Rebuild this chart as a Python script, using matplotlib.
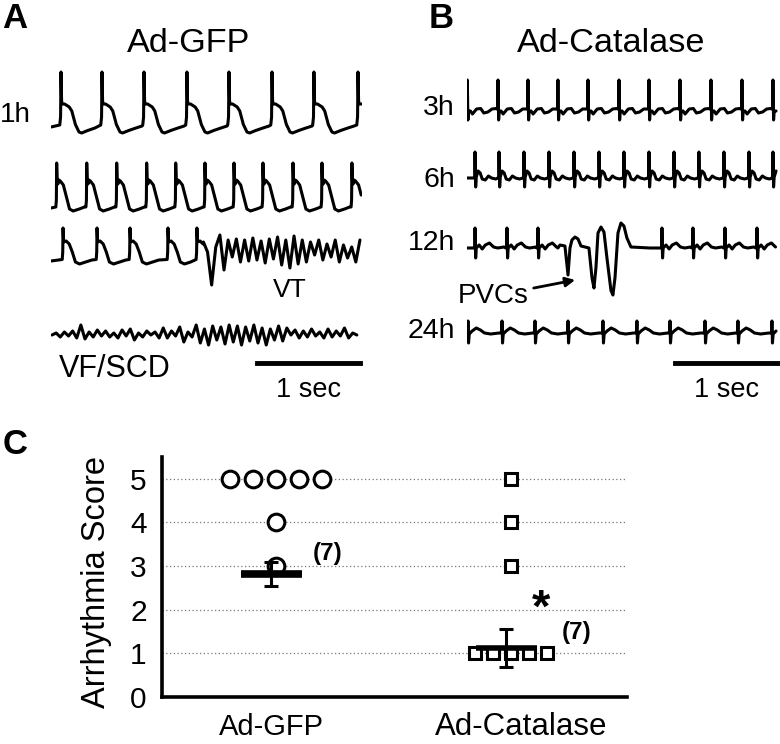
import numpy as np
import matplotlib
matplotlib.use("Agg")
import matplotlib.pyplot as plt

# ---------------- data ----------------
# ECG traces: time in s, amplitude in mV
# panel A, Ad-GFP
gfp_1h_beats = [0.097, 0.495, 0.903, 1.320, 1.728, 2.146, 2.553, 2.981]
gfp_1h_tmpl_t = [-0.012, -0.004, 0.0, 0.006, 0.012, 0.035, 0.08, 0.105, 0.14, 0.175, 0.2, 0.26, 0.33, 0.39]
gfp_1h_tmpl_v = [0.14, 0.3, 1.2, 0.62, 0.56, 0.56, 0.50, 0.42, 0.15, 0.0, -0.02, 0.03, 0.08, 0.12]

gfp_row2_beats = [0.055, 0.347, 0.638, 0.929, 1.211, 1.495, 1.777, 2.058, 2.350, 2.631, 2.922]
gfp_row2_tmpl_t = [-0.008, -0.003, 0.0, 0.005, 0.012, 0.022, 0.035, 0.065, 0.09, 0.125, 0.16, 0.22, 0.27]
gfp_row2_tmpl_v = [0.06, 0.2, 0.94, 0.6, 0.52, 0.6, 0.58, 0.5, 0.3, 0.02, -0.02, 0.02, 0.06]

gfp_row3_beats = [0.117, 0.447, 0.767, 1.136, 1.417]
gfp_row3_tmpl_t = [-0.008, -0.003, 0.0, 0.006, 0.03, 0.06, 0.09, 0.12, 0.16, 0.22, 0.28]
gfp_row3_tmpl_v = [0.05, 0.2, 0.68, 0.4, 0.42, 0.36, 0.2, 0.0, -0.04, 0.0, 0.04]
gfp_vt_t0 = 1.48
gfp_vt_dt = 0.04
gfp_vt_mv = [0.40, 0.20, -0.46, 0.30, 0.54, -0.16, 0.44, 0.10, 0.46, 0.0,
             0.44, 0.02, 0.48, 0.04, 0.42, -0.02, 0.46, 0.06, 0.50, -0.06,
             0.44, -0.12, 0.52, -0.04, 0.44, 0.0, 0.40, 0.14, 0.44, 0.04,
             0.36, 0.10, 0.44, 0.0, 0.34, 0.08, 0.30, 0.0, 0.44]

gfp_vf_t0 = 0.01
gfp_vf_dt = 0.04
gfp_vf_mv = [0.0, 0.04, -0.04, 0.06, -0.02, 0.08, -0.06, 0.20, -0.08, 0.06,
             -0.04, 0.10, -0.02, 0.08, -0.04, 0.04, -0.06, 0.10, -0.02, 0.12,
             -0.10, 0.04, -0.04, 0.08, 0.0, 0.06, -0.06, 0.14, -0.06, 0.08,
             -0.02, 0.16, -0.14, 0.06, -0.04, 0.20, -0.16, 0.12, -0.20, 0.18,
             -0.10, 0.16, -0.18, 0.20, -0.14, 0.18, -0.20, 0.16, -0.12, 0.20,
             -0.16, 0.14, -0.20, 0.12, -0.10, 0.18, -0.12, 0.14, 0.0, 0.10,
             -0.06, 0.08, -0.04, 0.12, -0.02, 0.06, -0.06, 0.12, -0.04, 0.08,
             -0.02, 0.14, -0.06, 0.04, 0.0]

# panel B, Ad-Catalase
cat_3h_beats = [0.003, 0.301, 0.592, 0.883, 1.175, 1.476, 1.767, 2.068, 2.369, 2.670, 2.971]
cat_3h_tmpl_t = [-0.012, -0.004, 0.0, 0.006, 0.012, 0.03, 0.05, 0.09, 0.13, 0.16, 0.2, 0.24, 0.28]
cat_3h_tmpl_v = [0.02, 0.03, 0.6, -0.2, -0.02, -0.02, -0.08, 0.02, 0.03, -0.06, -0.04, 0.02, 0.03]

cat_6h_beats = [0.078, 0.311, 0.553, 0.796, 1.039, 1.282, 1.524, 1.767, 2.010, 2.252, 2.495, 2.738, 2.971]
cat_6h_tmpl_t = [-0.01, -0.003, 0.0, 0.006, 0.012, 0.03, 0.05, 0.07, 0.1, 0.13, 0.16, 0.2, 0.23]
cat_6h_tmpl_v = [0.0, 0.02, 0.52, -0.18, 0.02, 0.14, 0.1, -0.02, -0.04, 0.04, 0.0, -0.02, 0.0]

cat_12h_beats_pre = [0.078, 0.388, 0.689]
cat_12h_beats_post = [1.893, 2.194, 2.505, 2.816]
cat_12h_tmpl_t = [-0.01, -0.003, 0.0, 0.006, 0.012, 0.04, 0.07, 0.1, 0.14, 0.18, 0.22, 0.28]
cat_12h_tmpl_v = [0.0, 0.0, 0.4, -0.2, 0.0, 0.06, -0.02, 0.06, 0.1, 0.02, 0.0, 0.02]
cat_pvc_t = [0.883, 0.903, 0.951, 0.981, 1.0, 1.019, 1.049, 1.078, 1.107, 1.146, 1.184,
             1.214, 1.233, 1.252, 1.272, 1.301, 1.330, 1.359, 1.398, 1.417, 1.437,
             1.466, 1.495, 1.524, 1.553, 1.592, 1.777]
cat_pvc_mv = [0.0, 0.06, 0.04, -0.54, 0.0, 0.16, 0.22, 0.18, 0.04, 0.02, 0.0,
              -0.6, -0.8, -0.4, 0.3, 0.42, 0.32, -0.2, -0.85, -0.94, -0.6,
              0.3, 0.5, 0.44, 0.2, 0.02, 0.0]

cat_24h_beats = [0.010, 0.340, 0.660, 0.981, 1.320, 1.650, 1.971, 2.311, 2.631, 2.961]
cat_24h_tmpl_t = [-0.01, -0.003, 0.0, 0.005, 0.012, 0.04, 0.08, 0.12, 0.16, 0.22, 0.3]
cat_24h_tmpl_v = [0.0, 0.02, 0.24, -0.2, -0.02, 0.04, 0.1, 0.06, 0.0, -0.02, 0.0]

# panel C, arrhythmia scores
groups = ["Ad-GFP", "Ad-Catalase"]
gfp_scores = [5, 5, 5, 5, 5, 4, 3]
cat_scores = [5, 4, 3, 1, 1, 1, 1, 1]
means = [2.82, 1.12]
errs = [0.28, 0.44]
n_labels = ["(7)", "(7)"]

# ---------------- helpers ----------------
plt.rcParams["font.family"] = ["Liberation Sans", "DejaVu Sans"]
W, H = 780, 744
fig = plt.figure(figsize=(W / 100, H / 100), dpi=100)


def px_axes(left, top, width, height):
    return fig.add_axes([left / W, 1 - (top + height) / H, width / W, height / H])


def px_text(x, y, s, **kw):
    fig.text(x / W, 1 - y / H, s, **kw)


def build(beats, tt, tv, stop):
    # place one beat template at every beat time, cut before the next one starts
    ts, vs = [], []
    limits = [b + tt[0] for b in beats[1:]] + [stop]
    for b, lim in zip(beats, limits):
        for dt, v in zip(tt, tv):
            if b + dt < lim:
                ts.append(b + dt)
                vs.append(v)
    return ts, vs


def trace_axes(x0, baseline):
    # 1 s = 103 px, 1 mV = 50 px
    ax = px_axes(x0, baseline - 75, 311, 150)
    ax.set_xlim(0, 3.02)
    ax.set_ylim(-1.5, 1.5)
    ax.axis("off")
    ax.patch.set_alpha(0)
    return ax


LW = 2.2
kw_line = dict(color="black", lw=LW, solid_joinstyle="round", solid_capstyle="round")

# ---------------- panel A ----------------
ax = trace_axes(51, 132)
t, v = build(gfp_1h_beats, gfp_1h_tmpl_t, gfp_1h_tmpl_v, 3.02)
ax.plot([0.0] + t, [0.1] + v, **kw_line)

ax = trace_axes(51, 210)
t, v = build(gfp_row2_beats, gfp_row2_tmpl_t, gfp_row2_tmpl_v, 3.02)
ax.plot([0.0] + t, [0.04] + v, **kw_line)

ax = trace_axes(51, 262)
t, v = build(gfp_row3_beats, gfp_row3_tmpl_t, gfp_row3_tmpl_v, gfp_vt_t0)
vt_t = [gfp_vt_t0 + i * gfp_vt_dt for i in range(len(gfp_vt_mv))]
ax.plot([0.0] + t + vt_t, [0.02] + v + gfp_vt_mv, **kw_line)

ax = trace_axes(51, 335)
vf_t = [gfp_vf_t0 + i * gfp_vf_dt for i in range(len(gfp_vf_mv))]
ax.plot(vf_t, gfp_vf_mv, **kw_line)
ax.plot([2.0, 3.0], [-0.56, -0.56], color="black", lw=3.5, clip_on=False)
ax.text(2.5, -1.1, "1 sec", ha="center", va="center", fontsize=19.5)

# ---------------- panel B ----------------
ax = trace_axes(467, 110)
t, v = build(cat_3h_beats, cat_3h_tmpl_t, cat_3h_tmpl_v, 3.02)
ax.plot(t, v, **kw_line)

ax = trace_axes(467, 178)
t, v = build(cat_6h_beats, cat_6h_tmpl_t, cat_6h_tmpl_v, 3.02)
ax.plot([0.0] + t, [0.0] + v, **kw_line)

ax = trace_axes(467, 248)
t1, v1 = build(cat_12h_beats_pre, cat_12h_tmpl_t, cat_12h_tmpl_v, cat_pvc_t[0])
t2, v2 = build(cat_12h_beats_post, cat_12h_tmpl_t, cat_12h_tmpl_v, 3.02)
ax.plot([0.0] + t1 + cat_pvc_t + t2, [0.0] + v1 + cat_pvc_mv + v2, **kw_line)
ax.annotate("PVCs", xy=(1.05, -0.64), xytext=(0.25, -0.96), ha="center", va="center",
            fontsize=20,
            arrowprops=dict(arrowstyle="-|>", color="black", lw=2, shrinkA=2, shrinkB=0,
                            mutation_scale=14))

ax = trace_axes(467, 333)
t, v = build(cat_24h_beats, cat_24h_tmpl_t, cat_24h_tmpl_v, 3.02)
ax.plot(t, v, **kw_line)
ax.plot([2.02, 3.02], [-0.6, -0.6], color="black", lw=3.5, clip_on=False)
ax.text(2.52, -1.14, "1 sec", ha="center", va="center", fontsize=19.5)

# labels of the panels
px_text(15, 19, "A", ha="center", va="center", fontsize=25, fontweight="bold")
px_text(441, 19, "B", ha="center", va="center", fontsize=25, fontweight="bold")
px_text(15, 445, "C", ha="center", va="center", fontsize=25, fontweight="bold")
px_text(189, 43, "Ad-GFP", ha="center", va="center", fontsize=24.7)
px_text(611, 43, "Ad-Catalase", ha="center", va="center", fontsize=24.7)
px_text(15, 115, "1h", ha="center", va="center", fontsize=20)
for lab, y in zip(["3h", "6h", "12h", "24h"], [108, 180, 243, 331]):
    px_text(455, y, lab, ha="right", va="center", fontsize=20.5)
px_text(290, 290, "VT", ha="center", va="center", fontsize=19)
px_text(115, 369, "VF/SCD", ha="center", va="center", fontsize=22)

# ---------------- panel C ----------------
ax = px_axes(162, 457, 465, 240)
ax.set_xlim(0.515, 2.494)
ax.set_ylim(0, 5.5)
ax.set_yticks(range(6))
ax.set_xticks([1, 2])
ax.set_xticklabels([])
ax.tick_params(axis="y", length=0, pad=11, labelsize=21.5)
ax.tick_params(axis="x", length=0)
for s in ["top", "right"]:
    ax.spines[s].set_visible(False)
for s in ["left", "bottom"]:
    ax.spines[s].set_linewidth(2.6)
ax.yaxis.grid(True, linestyle=(0, (1, 2)), color="#777777", lw=0.9)
ax.set_axisbelow(True)
ax.set_ylabel("Arrhythmia Score", fontsize=23.5)
ax.yaxis.set_label_coords(-0.108, 0.48)

# group names under the axis
for gx, name, fs in zip([0.98, 2.045], groups, [21, 22.5]):
    ax.text(gx, -0.125, name, transform=ax.get_xaxis_transform(), ha="center",
            va="center", fontsize=fs)

styles = [dict(marker="o", ms=12, spacing=0.098), dict(marker="s", ms=9, spacing=0.077)]
for gx, scores, st in zip([1, 2], [gfp_scores, cat_scores], styles):
    xs, ys = [], []
    for val in sorted(set(scores), reverse=True):
        k = scores.count(val)
        for i in range(k):
            xs.append(gx + (i - (k - 1) / 2) * st["spacing"])
            ys.append(val)
    ax.plot(xs, ys, linestyle="none", marker=st["marker"], ms=st["ms"],
            mfc="white", mec="black", mew=2.2, zorder=3)

for gx, m, e, lw in zip([1, 2], means, errs, [5.5, 4]):
    ex = gx - 0.02
    ax.errorbar([ex], [m], yerr=[e], fmt="none", ecolor="black", elinewidth=2.2,
                capsize=5, capthick=2.2, zorder=4)
    ax.plot([ex - 0.13, ex + 0.13], [m, m], color="black", lw=lw, zorder=4,
            solid_capstyle="butt")

ax.text(1.22, 3.28, n_labels[0], ha="center", va="center", fontsize=17.5, fontweight="bold")
ax.text(2.28, 1.47, n_labels[1], ha="center", va="center", fontsize=17.5, fontweight="bold")
ax.text(2.13, 1.72, "*", ha="center", va="baseline", fontsize=34, fontweight="bold")

fig.savefig("out.png", dpi=100)
